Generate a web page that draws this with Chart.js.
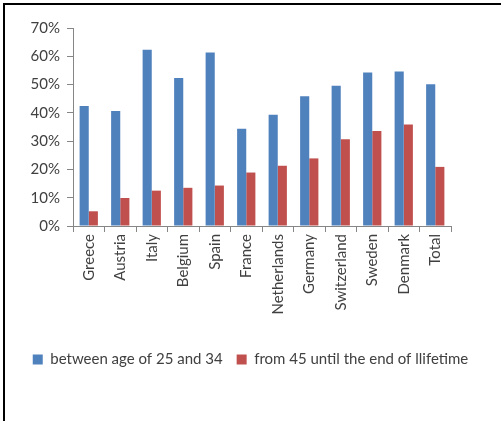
<!DOCTYPE html>
<html>
<head>
<meta charset="utf-8">
<script src="https://cdn.jsdelivr.net/npm/chart.js@4/dist/chart.umd.min.js"></script>
<style>
  html, body { margin: 0; padding: 0; background: #fff; }
  #wrap { position: relative; width: 501px; height: 421px; }
  #frame { position: absolute; left: 3px; top: 3px; right: 0; bottom: 0;
           border-left: 2px solid #000; border-top: 2px solid #000; pointer-events: none; }
  canvas { position: absolute; left: 0; top: 0; }
</style>
</head>
<body>
<div id="wrap">
  <canvas id="c" width="501" height="421"></canvas>
  <div id="frame"></div>
</div>
<script>
const categories = ["Greece", "Austria", "Italy", "Belgium", "Spain", "France", "Netherlands", "Germany", "Switzerland", "Sweden", "Denmark", "Total"];
const seriesNames = ["between age of 25 and 34", "from 45 until the end of llifetime"];
const age25to34 = [42.4, 40.7, 62.3, 52.3, 61.3, 34.4, 39.3, 45.9, 49.6, 54.3, 54.6, 50.1];
const from45 = [5.2, 9.9, 12.5, 13.5, 14.3, 18.9, 21.3, 23.9, 30.7, 33.6, 35.9, 20.9];
const yTicks = [0, 10, 20, 30, 40, 50, 60, 70];

const FONT = "Lato, 'Liberation Sans', sans-serif";
const axisColor = '#868686';
const textColor = '#404040';

new Chart(document.getElementById('c'), {
  type: 'bar',
  data: {
    labels: categories,
    datasets: [
      { label: seriesNames[0], data: age25to34, backgroundColor: '#4F81BD', categoryPercentage: 0.58, barPercentage: 1.0 },
      { label: seriesNames[1], data: from45, backgroundColor: '#C0504D', categoryPercentage: 0.58, barPercentage: 1.0 }
    ]
  },
  options: {
    responsive: false,
    animation: false,
    devicePixelRatio: 1,
    layout: { padding: { left: 0, right: 0, top: 28, bottom: 44 } },
    plugins: {
      tooltip: { enabled: false },
      legend: {
        position: 'bottom',
        labels: {
          boxWidth: 10, boxHeight: 10, padding: 14,
          color: textColor,
          font: { family: FONT, size: 15 }
        }
      }
    },
    scales: {
      x: {
        grid: { display: true, drawOnChartArea: false, drawTicks: true, tickLength: 6, color: axisColor, offset: true },
        border: { display: true, color: axisColor, width: 1 },
        ticks: { color: textColor, font: { family: FONT, size: 15 }, minRotation: 90, maxRotation: 90, padding: 2, autoSkip: false },
        afterFit: (s) => { s.height = 112; }
      },
      y: {
        min: 0, max: 70,
        afterBuildTicks: (s) => { s.ticks = yTicks.map(v => ({ value: v })); },
        grid: { display: true, drawOnChartArea: false, drawTicks: true, tickLength: 6, color: axisColor },
        border: { display: true, color: axisColor, width: 1 },
        ticks: { color: textColor, font: { family: FONT, size: 15 }, padding: 7, callback: (v) => v + '%' },
        afterFit: (s) => { s.width = 73; }
      },
      yRightSpace: {
        position: 'right',
        display: true,
        min: 0, max: 70,
        grid: { display: false },
        border: { display: false },
        ticks: { display: false },
        afterFit: (s) => { s.width = 50; }
      }
    }
  }
});
</script>
</body>
</html>
